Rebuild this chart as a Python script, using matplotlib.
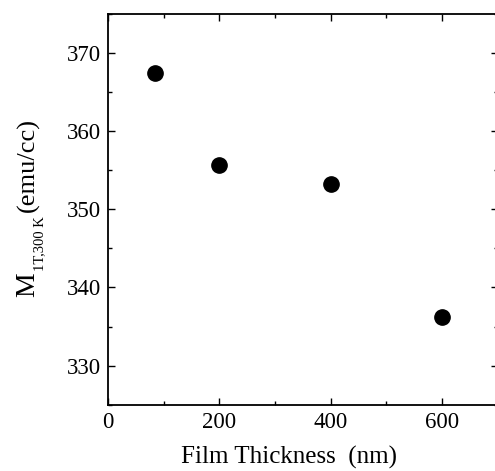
import matplotlib
matplotlib.use('Agg')
import matplotlib.pyplot as plt
from matplotlib.ticker import MultipleLocator

# data
thickness = [85, 200, 400, 600]          # nm
moment = [367.4, 355.7, 353.3, 336.2]    # emu/cc

plt.rcParams['font.family'] = ['Liberation Serif', 'DejaVu Serif']

W, H = 495, 471
fig = plt.figure(figsize=(W / 100, H / 100), dpi=100)
ax = fig.add_axes([108 / W, 1 - 404.7 / H, 389.6 / W, 390.7 / H])

ax.plot(thickness, moment, 'o', color='black', markersize=11, clip_on=False)

ax.set_xlim(0, 700)
ax.set_ylim(325, 375)
ax.xaxis.set_major_locator(MultipleLocator(200))
ax.xaxis.set_minor_locator(MultipleLocator(100))
ax.yaxis.set_major_locator(MultipleLocator(10))
ax.yaxis.set_minor_locator(MultipleLocator(5))
ax.tick_params(which='both', direction='in', top=True, right=True, width=1)
ax.tick_params(which='major', length=5, labelsize=16.5, pad=5)
ax.tick_params(which='minor', length=3)
for s in ax.spines.values():
    s.set_linewidth(1.3)

ax.set_xlabel('Film Thickness  (nm)', fontsize=18)
ax.xaxis.set_label_coords((289 - 108) / 389.6, -0.105)

# y label built from pieces so the subscript can be small
renderer = fig.canvas.get_renderer()
kw = dict(rotation=90, rotation_mode='anchor', ha='left', va='baseline')
x0, y0 = 34, H - 297
t1 = fig.text(x0 / W, y0 / H, 'M', fontsize=20, **kw)
y1 = t1.get_window_extent(renderer).y1
t2 = fig.text((x0 + 9) / W, (y1 + 1) / H, '1T,300 K', fontsize=10.5, **kw)
y2 = t2.get_window_extent(renderer).y1
fig.text(x0 / W, (y2 + 5) / H, '(emu/cc)', fontsize=19, **kw)

fig.savefig('out.png', dpi=100)
